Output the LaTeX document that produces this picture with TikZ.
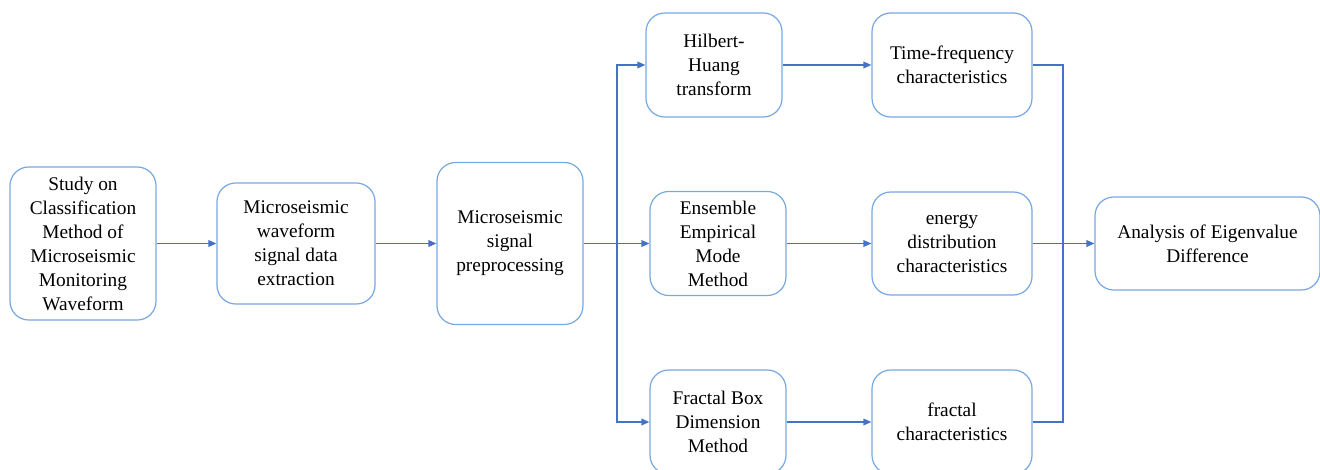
\documentclass[tikz,border=0pt]{standalone}
\usepackage{fontspec}
\setmainfont{Liberation Serif}
\usetikzlibrary{arrows.meta, positioning, calc}
\definecolor{boxblue}{RGB}{120,168,224}
\definecolor{lineblue}{RGB}{68,114,196}

\begin{document}
\begin{tikzpicture}[
    x=0.75pt, y=-0.75pt,
    block/.style={rectangle, draw=boxblue, line width=0.9pt, rounded corners=14pt,
                  align=center, inner sep=2pt,
                  font=\fontsize{14.5}{18}\selectfont},
    arrow/.style={-{Triangle[length=6pt, width=5pt]}, lineblue, line width=1pt},
    link/.style={lineblue, line width=1pt},
  ]
  \useasboundingbox (0,0) rectangle (1320,470);

  % Main chain
  \node[block, minimum width=109.5pt, minimum height=114.75pt] (study) at (83,243.5)
    {Study on\\Classification\\Method of\\Microseismic\\Monitoring\\Waveform};
  \node[block, minimum width=118.5pt, minimum height=90.75pt] (extract) at (296,243.5)
    {Microseismic\\waveform\\signal data\\extraction};
  \node[block, minimum width=109.5pt, minimum height=121.5pt] (prep) at (510,243.5)
    {Microseismic\\signal\\preprocessing};

  % Methods
  \node[block, minimum width=102pt, minimum height=78pt] (hht) at (714,65)
    {Hilbert-\\Huang\\transform};
  \node[block, minimum width=102pt, minimum height=78pt] (eemd) at (718,243.5)
    {Ensemble\\Empirical\\Mode\\Method};
  \node[block, minimum width=102pt, minimum height=78pt] (fbd) at (718,422)
    {Fractal Box\\Dimension\\Method};

  % Characteristics
  \node[block, minimum width=120pt, minimum height=78pt] (tfc) at (952,65)
    {Time-frequency\\characteristics};
  \node[block, minimum width=120pt, minimum height=77.25pt] (edc) at (952,243.5)
    {energy\\distribution\\characteristics};
  \node[block, minimum width=120pt, minimum height=78pt] (frc) at (952,422)
    {fractal\\characteristics};

  % Result
  \node[block, minimum width=168.75pt, minimum height=69.75pt] (eigen) at (1207.5,243.5)
    {Analysis of Eigenvalue\\Difference};

  % Junctions
  \coordinate (split) at (617,243.5);
  \coordinate (merge) at (1063,243.5);

  % Arrows
  \draw[arrow] (study) -- (extract);
  \draw[arrow] (extract) -- (prep);
  \draw[arrow] (prep) -- (eemd);
  \draw[arrow] (split) |- (hht.west);
  \draw[arrow] (split) |- (fbd.west);
  \draw[arrow] (hht) -- (tfc);
  \draw[arrow] (eemd) -- (edc);
  \draw[arrow] (fbd) -- (frc);
  \draw[link] (tfc.east) -| (merge);
  \draw[link] (frc.east) -| (merge);
  \draw[arrow] (edc.east) -- (merge) -- (eigen);
\end{tikzpicture}
\end{document}
